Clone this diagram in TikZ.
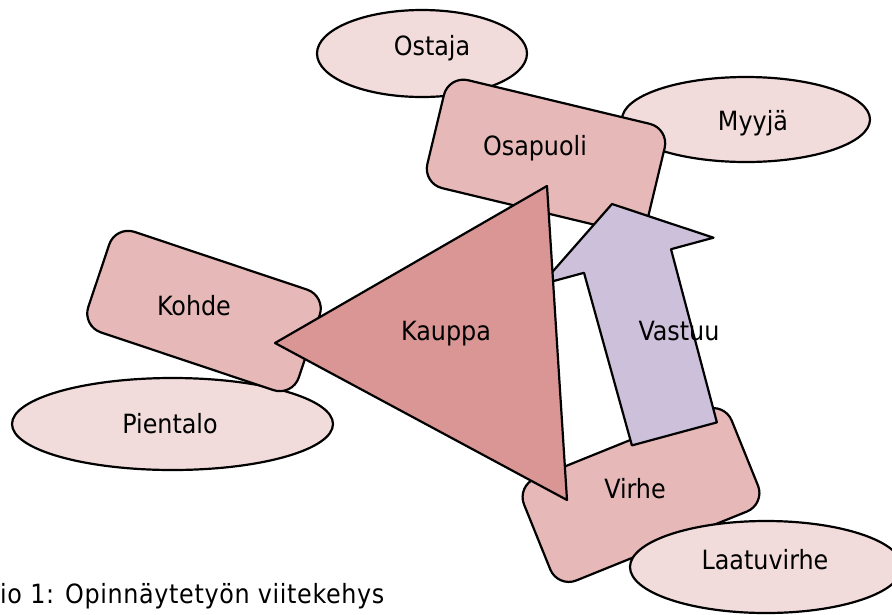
\documentclass[tikz,border=0pt]{standalone}
\usepackage{fontspec}
\setmainfont{DejaVu Sans Condensed}
\usetikzlibrary{shapes.geometric}
\definecolor{boxfill}{HTML}{E6B8B7}
\definecolor{ellfill}{HTML}{F2DCDB}
\definecolor{trifill}{HTML}{D99694}
\definecolor{arrfill}{HTML}{CCC0DA}
\begin{document}
\begin{tikzpicture}[x=1pt,y=-1pt,
  outl/.style={draw=black,line width=2.2pt,line join=round},
  rbox/.style={outl,fill=boxfill,rectangle,rounded corners=20pt,inner sep=0pt,outer sep=0pt},
  oval/.style={outl,fill=ellfill,ellipse,inner sep=0pt,outer sep=0pt},
  lbl/.style={font=\fontsize{26.5}{32}\selectfont,inner sep=0pt,text=black,anchor=base}]
\useasboundingbox (0,0) rectangle (892,614);
\clip (0,0) rectangle (892,614);
% ellipses and boxes (back to front)
\node[oval,minimum width=210pt,minimum height=87pt] (ostajaE) at (422,53.5) {};
\node[oval,minimum width=248pt,minimum height=85pt] (myyjaE) at (746,119.5) {};
\node[rbox,minimum width=227pt,minimum height=111pt,rotate=-13.5] (osapuoliB) at (546,156) {};
\node[oval,minimum width=321pt,minimum height=92pt] (pientaloE) at (172.5,424) {};
\node[rbox,minimum width=222pt,minimum height=106pt,rotate=-18.5] (kohdeB) at (204,311) {};
\node[rbox,minimum width=224pt,minimum height=110pt,rotate=22] (virheB) at (641,495) {};
\node[oval,minimum width=272pt,minimum height=92pt] (laatuE) at (766,567) {};
% arrow Vastuu
\coordinate (aT) at (612,204);
\coordinate (aRB) at (713.5,237.7);
\coordinate (aRI) at (671,249.2);
\coordinate (aBR) at (716.9,422.4);
\coordinate (aBL) at (631.9,445.4);
\coordinate (aLI) at (584,272.8);
\coordinate (aLB) at (541.5,284.3);
\draw[outl,fill=arrfill] (aT) -- (aRB) -- (aRI) -- (aBR) -- (aBL) -- (aLI) -- (aLB) -- cycle;
% triangle Kauppa
\coordinate (tL) at (275,343);
\coordinate (tT) at (547,186);
\coordinate (tB) at (567,500);
\draw[outl,fill=trifill] (tL) -- (tT) -- (tB) -- cycle;
% labels
\node[lbl] (ostaja) at (432,55) {Ostaja};
\node[lbl] (myyja) at (753,130) {Myyjä};
\node[lbl] (osapuoli) at (535,155) {Osapuoli};
\node[lbl] (kohde) at (194,315) {Kohde};
\node[lbl] (pientalo) at (170,433) {Pientalo};
\node[lbl] (kauppa) at (446,340) {Kauppa};
\node[lbl] (vastuu) at (679,340) {Vastuu};
\node[lbl] (virhe) at (635,498) {Virhe};
\node[lbl] (laatu) at (765,569) {Laatuvirhe};
\node[lbl,anchor=base west] (caption) at (0,603) {\addfontfeature{LetterSpace=2.5}io 1: Opinnäytetyön viitekehys};
\end{tikzpicture}
\end{document}
